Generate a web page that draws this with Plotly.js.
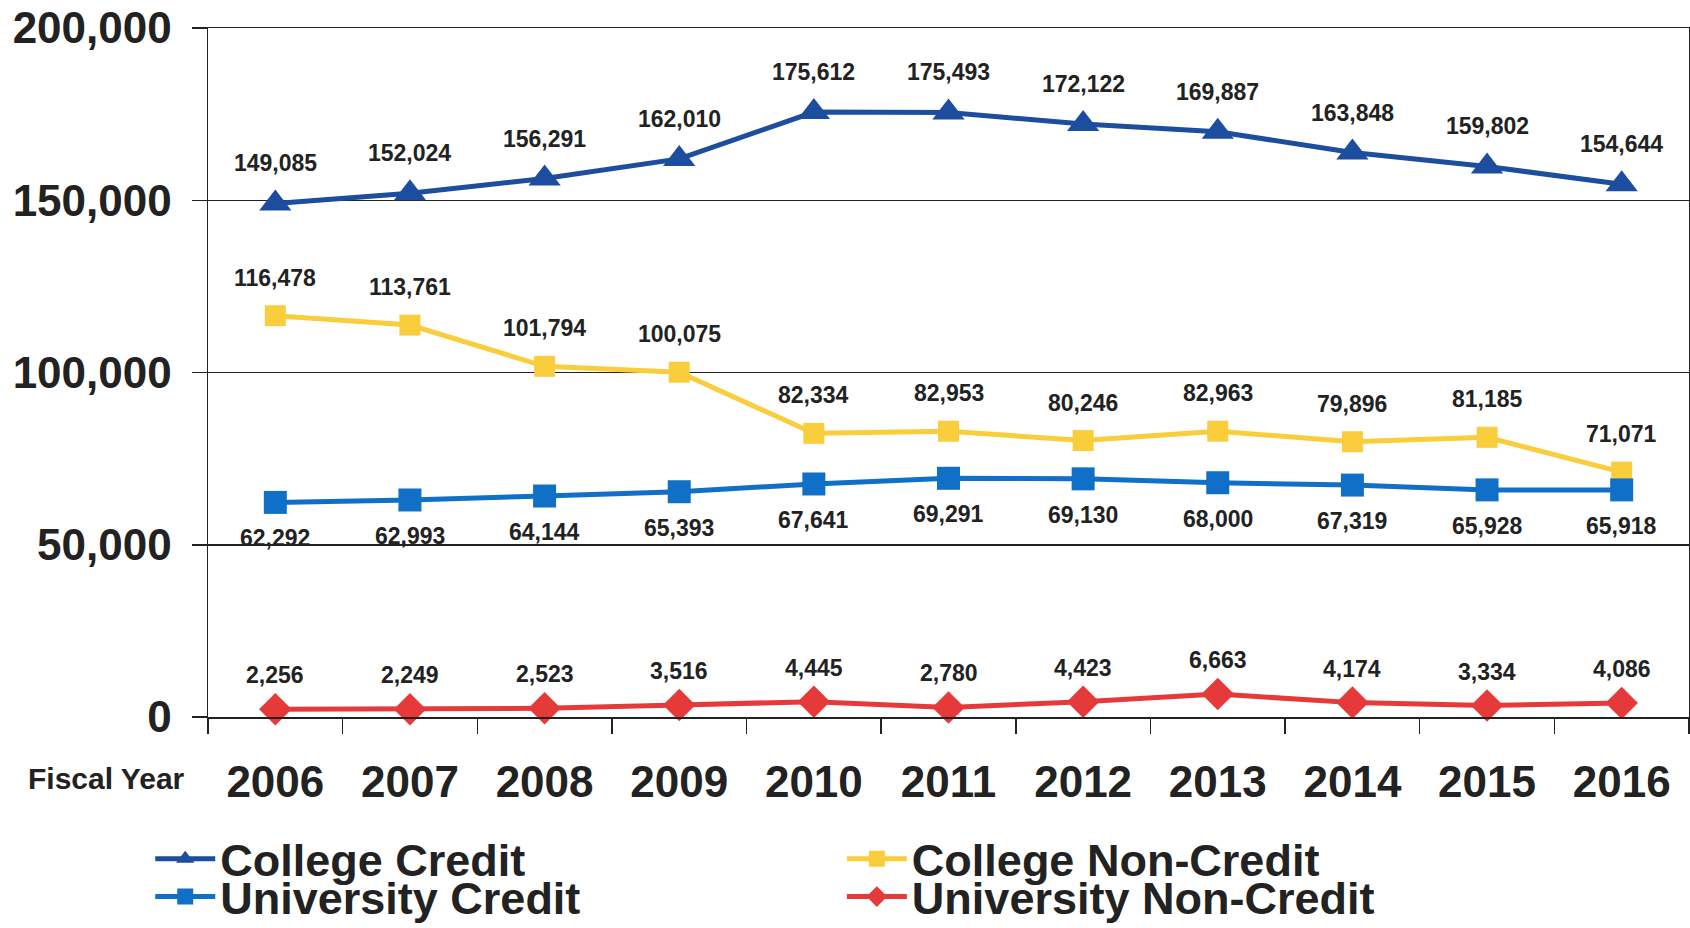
<!DOCTYPE html>
<html>
<head>
<meta charset="utf-8">
<script src="https://cdn.plot.ly/plotly-3.0.1.min.js"></script>
<style>
html,body{margin:0;padding:0;background:#fff;}
#chart{width:1690px;height:928px;}
</style>
</head>
<body>
<div id="chart"></div>
<script>
const years = ["2006","2007","2008","2009","2010","2011","2012","2013","2014","2015","2016"];
const collegeCredit = [149085,152024,156291,162010,175612,175493,172122,169887,163848,159802,154644];
const collegeNonCredit = [116478,113761,101794,100075,82334,82953,80246,82963,79896,81185,71071];
const universityCredit = [62292,62993,64144,65393,67641,69291,69130,68000,67319,65928,65918];
const universityNonCredit = [2256,2249,2523,3516,4445,2780,4423,6663,4174,3334,4086];
const yTicks = [0,50000,100000,150000,200000];

const FONT = "Liberation Sans, Arial, Helvetica, sans-serif";

function series(name, y, color, symbol, size, legendId){
  return {
    x: years, y: y, name: name, type: "scatter", mode: "lines+markers",
    line: {color: color, width: 5},
    marker: {symbol: symbol, size: size, color: color},
    legend: legendId, cliponaxis: false
  };
}

const traces = [
  series("College Credit", collegeCredit, "#1d4d9f", "triangle-up", 28, "legend"),
  series("College Non-Credit", collegeNonCredit, "#f9cd3c", "square", 21, "legend2"),
  series("University Credit", universityCredit, "#1070c8", "square", 23, "legend3"),
  series("University Non-Credit", universityNonCredit, "#e63a3a", "diamond", 25, "legend4")
];

function labels(y, shift){
  return years.map((yr, i) => ({
    x: i, y: y[i], xref: "x", yref: "y",
    text: y[i].toLocaleString("en-US"),
    showarrow: false, yshift: shift,
    font: {family: FONT, size: 23, color: "#222", weight: 700}
  }));
}

const annotations = [].concat(
  labels(collegeCredit, 40),
  labels(collegeNonCredit, 38),
  labels(universityCredit, -36),
  labels(universityNonCredit, 34),
  [{
    xref: "paper", yref: "paper", x: -0.123, y: -0.089, xanchor: "left", yanchor: "middle",
    text: "Fiscal Year", showarrow: false,
    font: {family: FONT, size: 30, color: "#222", weight: 700}
  }]
);

const legendFont = {family: FONT, size: 45, color: "#222", weight: 700};
function legendAt(x, y){
  return {x: x, y: y, xanchor: "left", yanchor: "middle", font: legendFont,
          bgcolor: "rgba(0,0,0,0)", itemwidth: 60, orientation: "v"};
}

const layout = {
  width: 1690, height: 928,
  margin: {l: 208, r: 1, t: 28, b: 211, autoexpand: false},
  paper_bgcolor: "#fff", plot_bgcolor: "#fff",
  font: {family: FONT, color: "#222"},
  showlegend: true,
  legend: legendAt(-0.039, -0.206),
  legend2: legendAt(0.428, -0.206),
  legend3: legendAt(-0.039, -0.261),
  legend4: legendAt(0.428, -0.261),
  xaxis: {
    type: "category", range: [-0.5, 10.5], autorange: false,
    tickson: "boundaries", ticks: "outside", ticklen: 15, tickwidth: 1.5, tickcolor: "#222",
    showline: true, linecolor: "#222", linewidth: 1.5, mirror: true,
    showgrid: false, zeroline: false, tickangle: 0,
    tickfont: {family: FONT, size: 44, color: "#222", weight: 700},
    ticklabelstandoff: 26
  },
  yaxis: {
    range: [0, 200000], autorange: false, tickvals: yTicks, tickformat: ",d",
    ticks: "outside", ticklen: 15, tickwidth: 1.5, tickcolor: "#222",
    showline: true, linecolor: "#222", linewidth: 1.5, mirror: true,
    showgrid: true, gridcolor: "#222", gridwidth: 1.5, zeroline: false,
    tickfont: {family: FONT, size: 44, color: "#222", weight: 700},
    ticklabelstandoff: 11
  },
  annotations: annotations
};

Plotly.newPlot("chart", traces, layout, {staticPlot: true, displayModeBar: false});
</script>
</body>
</html>
